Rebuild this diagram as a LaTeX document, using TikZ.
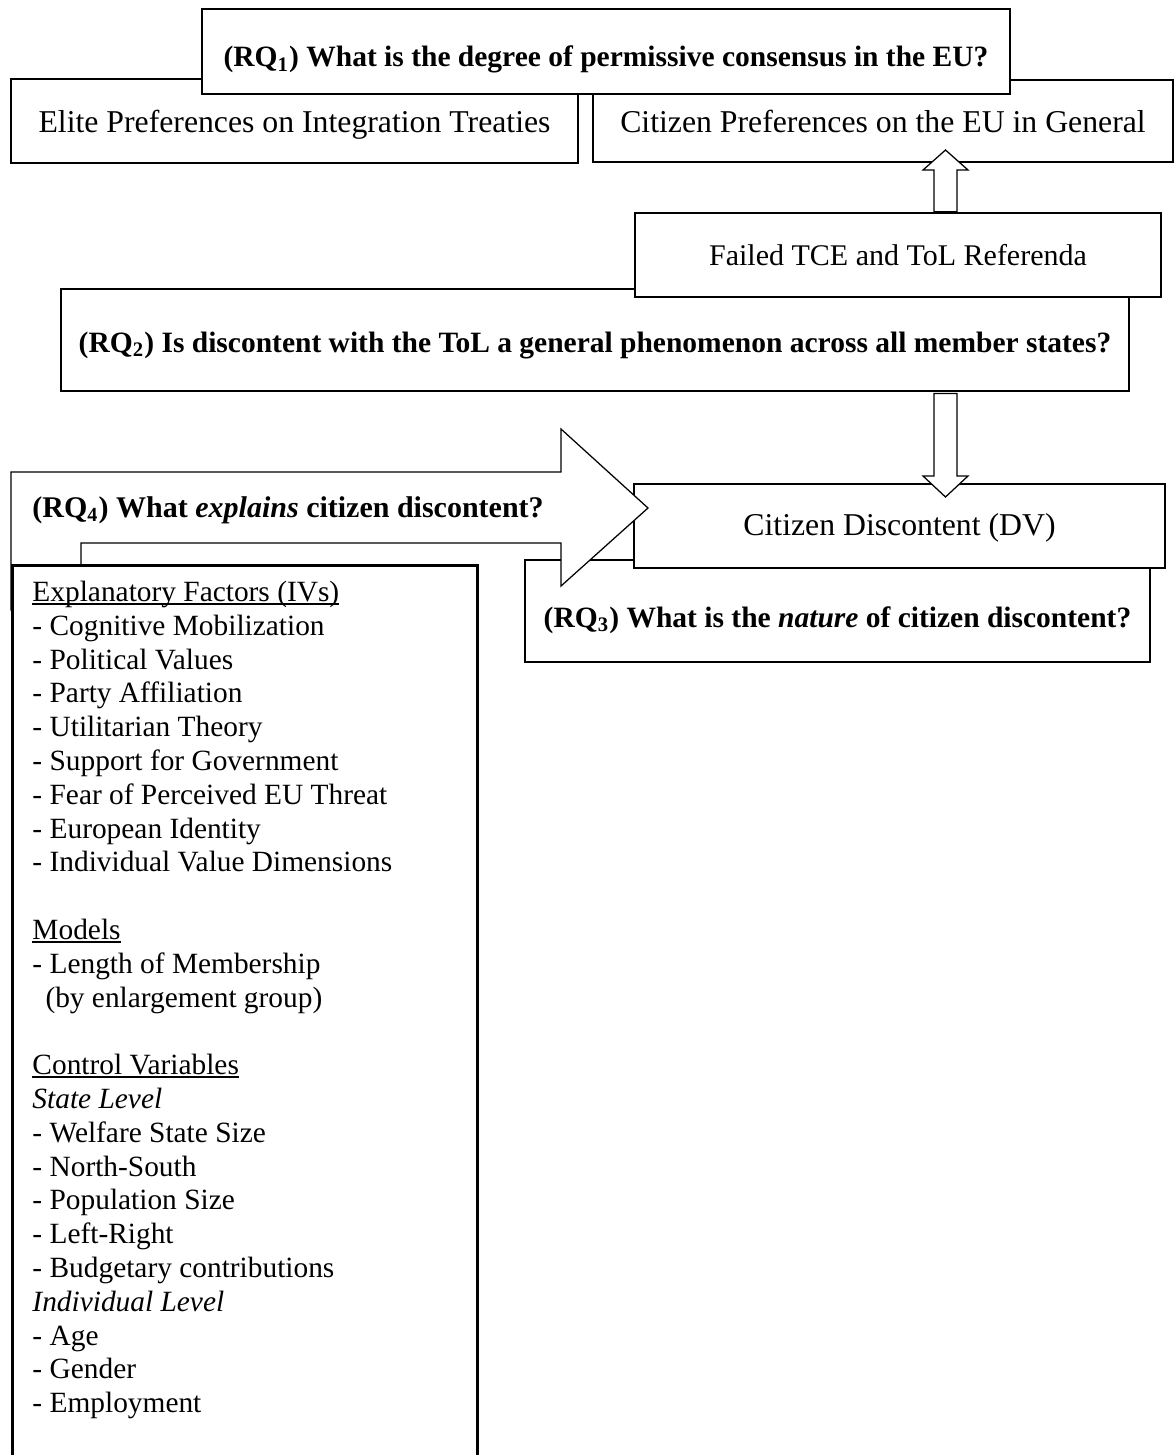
\documentclass[tikz,border=0pt]{standalone}
\usepackage{fontspec}
\setmainfont{Liberation Serif}
\usetikzlibrary{calc}

\newcommand{\uln}[1]{\leavevmode\setbox0\hbox{#1}\rlap{\rule[-1.3pt]{\wd0}{0.6pt}}\box0}

\tikzset{
  box/.style={draw, line width=1pt, fill=white, inner sep=0pt},
  thinbox/.style={box, line width=0.5pt},
  lift/.style={text height=#1, text depth=0pt},
  blockarr/.style={draw, line width=0.5pt, fill=white, line join=miter},
  rqfont/.style={font=\fontsize{11.8}{13.5}\selectfont\bfseries},
  plainfont/.style={font=\fontsize{12.7}{14.3}\selectfont},
  listfont/.style={font=\fontsize{11.75}{13.52}\selectfont},
}

\begin{document}
\begin{tikzpicture}[x=0.4pt, y=-0.4pt]
\useasboundingbox (0,0) rectangle (1175,1455);

% RQ1 and the two preference boxes
\node[box, plainfont, lift=8.8pt, minimum width=226.8pt, minimum height=33.6pt] (elite) at (294.5,121) {Elite Preferences on Integration Treaties};
\node[box, plainfont, lift=8.8pt, minimum width=232pt, minimum height=32.8pt] (citizen) at (883,121) {Citizen Preferences on the EU in General};
\node[box, rqfont, lift=12pt, minimum width=323.2pt, minimum height=34pt] (rq1) at (606,51.5) {(RQ\textsubscript{1}) What is the degree of permissive consensus in the EU?};

% RQ2 and the referenda
\node[box, rqfont, lift=9.6pt, minimum width=427.2pt, minimum height=40.8pt] (rq2) at (595,340) {(RQ\textsubscript{2}) Is discontent with the ToL a general phenomenon across all member states?};
\node[thinbox, font=\fontsize{12}{13.5}\selectfont, lift=8pt, minimum width=210.4pt, minimum height=33.6pt] (failed) at (898,255) {Failed TCE and ToL Referenda};

\coordinate (uptip) at (945.5,150);
\draw[blockarr] (uptip) -- ++(22.5,20) -- ++(-11,0) -- ($(uptip |- failed.north)+(11.5,-0.6)$) -- ++(-23,0) -- ($(uptip)+(-11.5,20)$) -- ++(-11,0) -- cycle;

% RQ3 and the dependent variable
\node[thinbox, rqfont, lift=12.8pt, minimum width=250pt, minimum height=40.8pt] (rq3) at (837.5,611) {(RQ\textsubscript{3}) What is the \textit{nature} of citizen discontent?};
\node[box, plainfont, lift=7.2pt, minimum width=212.4pt, minimum height=33.6pt] (dv) at (899.5,526) {Citizen Discontent (DV)};

\coordinate (dntip) at (945.5,497);
\draw[blockarr] ($(dntip |- rq2.south)+(-11.5,1.25)$) -- ($(dntip)+(-11.5,-21)$) -- ++(-11,0) -- (dntip) -- ++(22.5,-21) -- ++(-11,0) -- ($(dntip |- rq2.south)+(11.5,1.25)$) -- cycle;

% RQ4 bent arrow
\coordinate (bigtail) at (11,610);
\coordinate (bigtip) at (648,508);
\draw[blockarr] (bigtail) -- (11,472) -- (561,472) -- (561,429) -- (bigtip) -- (561,586) -- (561,543) -- (81,543) -- (81,610) -- cycle;
\node[font=\fontsize{12}{13.5}\selectfont\bfseries, anchor=base west, inner sep=0pt] (rq4) at (32,517) {(RQ\textsubscript{4}) What \textit{explains} citizen discontent?};

% explanatory factors
\node[box, anchor=north west, minimum width=186pt, minimum height=380pt] (ivbox) at (11,564) {};
\node[listfont, anchor=north west, inner sep=0pt] (ivlist) at (32,577.3) {\begin{tabular}{@{}l@{}}
\uln{Explanatory Factors (IVs)}\\
- Cognitive Mobilization\\
- Political Values\\
- Party Affiliation\\
- Utilitarian Theory\\
- Support for Government\\
- Fear of Perceived EU Threat\\
- European Identity\\
- Individual Value Dimensions\\[13.52pt]
\uln{Models}\\
- Length of Membership\\
\hspace*{5.2pt}(by enlargement group)\\[13.52pt]
\uln{Control Variables}\\
\textit{State Level}\\
- Welfare State Size\\
- North-South\\
- Population Size\\
- Left-Right\\
- Budgetary contributions\\
\textit{Individual Level}\\
- Age\\
- Gender\\
- Employment
\end{tabular}};
\end{tikzpicture}
\end{document}
